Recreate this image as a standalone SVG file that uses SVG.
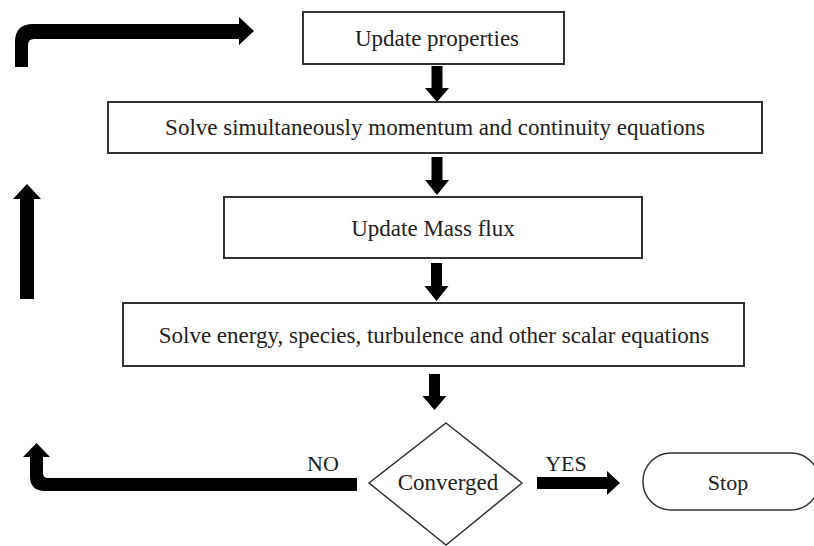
<svg xmlns="http://www.w3.org/2000/svg" width="814" height="546" viewBox="0 0 814 546">
<style>
.box{fill:#fff;stroke:#333;stroke-width:2}
.t{font-family:"Liberation Serif","Times New Roman",serif;font-size:23px;fill:#222;text-anchor:middle}
.tb{font-family:"Liberation Serif","Times New Roman",serif;font-size:22px;fill:#222;text-anchor:middle}
.arr{fill:#000;stroke:none}
</style>
<rect width="814" height="546" fill="#fff"/>
<g id="connectors">
<path class="arr" d="M15,67 V42 Q15,24 33,24 H239 V17 L254,31 L239,45 V39 H34 Q28,39 28,45 V67 Z"/>
<path class="arr" d="M20,299 V199 H13 L27,184 L41,199 H34 V299 Z"/>
<path class="arr" d="M357,478 H48 Q43,478 43,473 V457 H50 L36.5,443 L23,457 H30 V476 Q30,491 45,491 H357 Z"/>
<path class="arr" d="M537,477 H607 V471 L620,483 L607,495 V489 H537 Z"/>
<path class="arr" d="M431.5,66 H442.5 V88 H449 L437,102 L425,88 H431.5 Z"/>
<path class="arr" d="M431.5,157 H442.5 V180 H449 L437,195 L425,180 H431.5 Z"/>
<path class="arr" d="M431,263 H442 V286 H448.5 L436.5,301 L424.5,286 H431 Z"/>
<path class="arr" d="M429,374 H440 V396 H446.5 L434.5,410 L422.5,396 H429 Z"/>
</g>
<g id="n1"><rect class="box" x="303" y="12" width="261" height="52"/><text class="t" x="437" y="46">Update properties</text></g>
<g id="n2"><rect class="box" x="108" y="102" width="654" height="51"/><text class="t" x="435" y="135">Solve simultaneously momentum and continuity equations</text></g>
<g id="n3"><rect class="box" x="224" y="197" width="418" height="61"/><text class="t" x="433" y="236">Update Mass flux</text></g>
<g id="n4"><rect class="box" x="123" y="303" width="621" height="63"/><text class="t" x="434" y="343">Solve energy, species, turbulence and other scalar equations</text></g>
<g id="n5"><polygon class="box" style="stroke-width:1.5" points="446,423 522,483 446,545 369,483"/><text class="t" x="448" y="490">Converged</text></g>
<g id="n6"><rect class="box" style="stroke-width:1.5" x="643" y="453" width="176" height="57" rx="28" ry="28"/><text class="tb" x="728" y="490">Stop</text></g>
<text class="tb" x="323" y="471">NO</text>
<text class="tb" x="566" y="471">YES</text>
</svg>
